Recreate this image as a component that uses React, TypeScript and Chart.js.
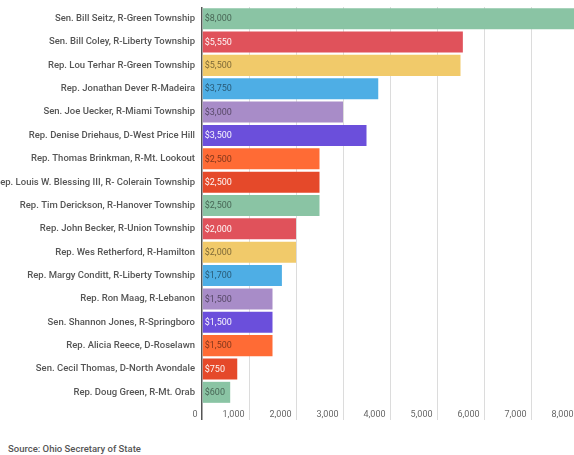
import React, { useEffect, useRef } from "react";
import { Chart, registerables } from "chart.js";

Chart.register(...registerables);

const categories = [
  "Sen. Bill Seitz, R-Green Township",
  "Sen. Bill Coley, R-Liberty Township",
  "Rep. Lou Terhar R-Green Township",
  "Rep. Jonathan Dever R-Madeira",
  "Sen. Joe Uecker, R-Miami Township",
  "Rep. Denise Driehaus, D-West Price Hill",
  "Rep. Thomas Brinkman, R-Mt. Lookout",
  "Rep. Louis W. Blessing III, R- Colerain Township",
  "Rep. Tim Derickson, R-Hanover Township",
  "Rep. John Becker, R-Union Township",
  "Rep. Wes Retherford, R-Hamilton",
  "Rep. Margy Conditt, R-Liberty Township",
  "Rep. Ron Maag, R-Lebanon",
  "Sen. Shannon Jones, R-Springboro",
  "Rep. Alicia Reece, D-Roselawn",
  "Sen. Cecil Thomas, D-North Avondale",
  "Rep. Doug Green, R-Mt. Orab",
];

const contributions = [8000, 5550, 5500, 3750, 3000, 3500, 2500, 2500, 2500, 2000, 2000, 1700, 1500, 1500, 1500, 750, 600];

const barColors = [
  "#8AC4A4", "#E0525B", "#F1CA6A", "#4EAEE5", "#A88CC8", "#6B4FDB",
  "#FF6B35", "#E5492A", "#8AC4A4", "#E0525B", "#F1CA6A", "#4EAEE5",
  "#A88CC8", "#6B4FDB", "#FF6B35", "#E5492A", "#8AC4A4",
];

const labelOnDark = [false, true, false, false, false, true, false, true, false, true, false, false, false, true, false, true, false];

const xTicks = [0, 1000, 2000, 3000, 4000, 5000, 6000, 7000, 8000];

const sourceText = "Source: Ohio Secretary of State";

const FONT = "Roboto, 'Noto Sans', sans-serif";

const valueLabelPlugin = {
  id: "valueLabels",
  afterDatasetsDraw(chart: any) {
    const ctx = chart.ctx;
    const meta = chart.getDatasetMeta(0);
    ctx.save();
    ctx.font = `9px ${FONT}`;
    ctx.textBaseline = "middle";
    ctx.textAlign = "left";
    meta.data.forEach((bar: any, i: number) => {
      const v = contributions[i];
      ctx.fillStyle = labelOnDark[i] ? "rgba(255,255,255,0.95)" : "rgba(0,0,0,0.5)";
      ctx.fillText("$" + v.toLocaleString("en-US"), bar.base + 2, bar.y + 0.5);
    });
    ctx.restore();
  },
};

export default function App() {
  const ref = useRef<HTMLCanvasElement | null>(null);

  useEffect(() => {
    if (!ref.current) return;
    const chart = new Chart(ref.current, {
      type: "bar",
      data: {
        labels: categories,
        datasets: [
          {
            data: contributions,
            backgroundColor: barColors,
            borderWidth: 0,
            barPercentage: 0.9,
            categoryPercentage: 1,
          },
        ],
      },
      options: {
        indexAxis: "y",
        animation: false,
        responsive: false,
        maintainAspectRatio: false,
        layout: { padding: { top: 7, bottom: 0, left: 0, right: 0 } },
        plugins: {
          legend: { display: false },
          tooltip: { enabled: false },
          title: { display: false },
        },
        scales: {
          x: {
            type: "linear",
            min: 0,
            max: 8000,
            afterBuildTicks: (scale: any) => {
              scale.ticks = xTicks.map((v) => ({ value: v }));
            },
            afterFit: (scale: any) => {
              scale.height = 26;
              scale.paddingLeft = 0;
              scale.paddingRight = 0;
            },
            grid: {
              drawTicks: true,
              tickLength: 16,
              color: (c: any) => (c.tick && c.tick.value === 0 ? "#555" : "#dcdcdc"),
              lineWidth: (c: any) => (c.tick && c.tick.value === 0 ? 1.5 : 1),
            },
            border: { display: false },
            ticks: {
              align: "end",
              padding: -11,
              color: "#666",
              font: { family: FONT, size: 9 },
              callback: (v: any) => Number(v).toLocaleString("en-US") + "  ",
            },
          },
          y: {
            type: "category",
            afterFit: (scale: any) => {
              scale.width = 202;
              scale.paddingTop = 0;
              scale.paddingBottom = 0;
            },
            grid: { display: false, drawTicks: false },
            border: { display: false },
            ticks: {
              padding: 7,
              color: "#555",
              font: { family: FONT, size: 9.5, weight: "500" },
              autoSkip: false,
            },
          },
        },
      },
      plugins: [valueLabelPlugin],
    });
    return () => chart.destroy();
  }, []);

  return (
    <div
      style={{
        position: "fixed",
        left: 0,
        top: 0,
        width: 574,
        height: 455,
        overflow: "hidden",
        background: "#fff",
      }}
    >
      <canvas
        ref={ref}
        width={578}
        height={430}
        style={{ position: "absolute", left: 0, top: 0, width: 578, height: 430 }}
      />
      <div
        style={{
          position: "absolute",
          left: 8,
          top: 443,
          fontFamily: FONT,
          fontSize: 9.5,
          fontWeight: 500,
          color: "#555",
          whiteSpace: "nowrap",
        }}
      >
        {sourceText}
      </div>
    </div>
  );
}
